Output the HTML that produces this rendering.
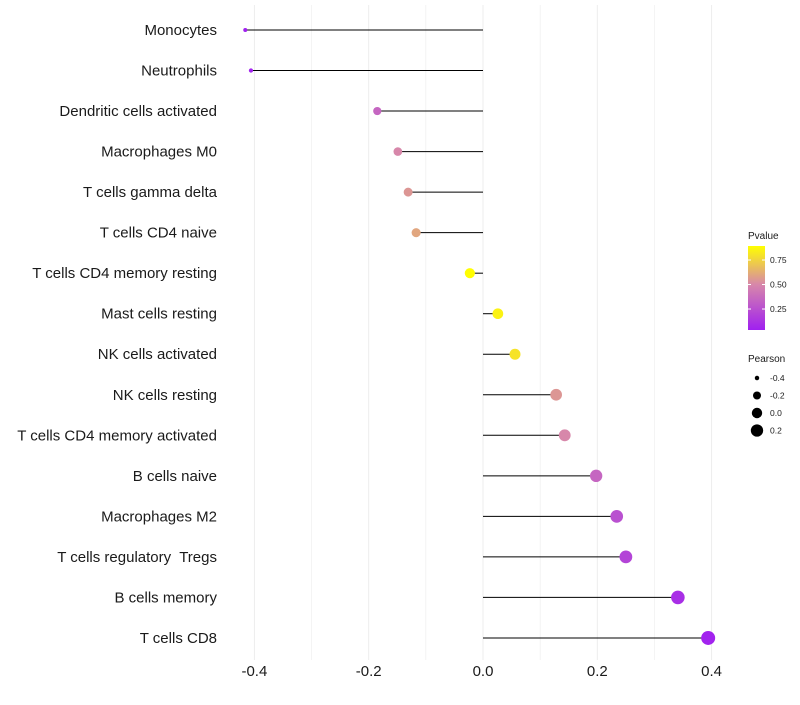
<!DOCTYPE html>
<html><head><meta charset="utf-8"><style>
body{margin:0;background:#fff;font-family:"Liberation Sans",sans-serif}
text{white-space:pre}
</style></head><body>
<svg id="chart" width="800" height="700" xmlns="http://www.w3.org/2000/svg" font-family="Liberation Sans, sans-serif"></svg>
<script>
const categories=["Monocytes","Neutrophils","Dendritic cells activated","Macrophages M0","T cells gamma delta","T cells CD4 naive","T cells CD4 memory resting","Mast cells resting","NK cells activated","NK cells resting","T cells CD4 memory activated","B cells naive","Macrophages M2","T cells regulatory  Tregs","B cells memory","T cells CD8"];
const pearson=[-0.416,-0.406,-0.185,-0.149,-0.131,-0.117,-0.023,0.026,0.056,0.128,0.143,0.198,0.234,0.25,0.341,0.394];
const pvalues=[0.04,0.05,0.35,0.5,0.55,0.6,0.89,0.85,0.8,0.55,0.5,0.35,0.25,0.2,0.1,0.05];
const xTicks=[-0.4,-0.2,0.0,0.2,0.4];
const minorTicks=[-0.3,-0.1,0.1,0.3];
const pTicks=[0.25,0.5,0.75];
const sizeLegend=[-0.4,-0.2,0.0,0.2];

const svg=document.getElementById('chart');
const NS='http://www.w3.org/2000/svg';
function mk(t,a,p){const e=document.createElementNS(NS,t);for(const k in a)e.setAttribute(k,a[k]);(p||svg).appendChild(e);return e;}
const xs=v=>483+v*571.5;
const ys=i=>30+i*40.53;
const rad=v=>Math.sqrt(Math.max(3,4+(v+0.416)*55.5));
function col(p){
  const a=[160,32,240],m=[215,135,170],b=[255,255,0];
  let c;
  if(p<=0.5){const t=Math.max(0,(p-0.036)/0.464);c=a.map((v,i)=>v+(m[i]-v)*t);}
  else{const t=Math.min(1,(p-0.5)/0.393);c=m.map((v,i)=>v+(b[i]-v)*t);}
  return 'rgb('+c.map(Math.round).join(',')+')';
}
xTicks.concat(minorTicks).forEach(v=>{
  const g=mk('line',{x1:xs(v),x2:xs(v),y1:5,y2:660,stroke:'#ededed','stroke-width':xTicks.includes(v)?1:0.6});
  
  
});
xTicks.forEach(v=>{
  const t=mk('text',{x:xs(v),y:676,'text-anchor':'middle','font-size':15,fill:'#1a1a1a'});
  t.textContent=v.toFixed(1);
  
  
});
categories.forEach((c,i)=>{
  const y=ys(i);
  const t=mk('text',{x:217,y:y+5,'text-anchor':'end','font-size':15,fill:'#1a1a1a'});
  t.textContent=c;
  
  
  const l=mk('line',{x1:xs(0),x2:xs(pearson[i]),y1:y,y2:y,stroke:'#000','stroke-width':1});
  
  
  const d=mk('circle',{cx:xs(pearson[i]),cy:y,r:rad(pearson[i]),fill:col(pvalues[i])});
  
  
});
const defs=mk('defs',{});
const gr=mk('linearGradient',{id:'pg',x1:0,y1:1,x2:0,y2:0},defs);
[0.036,0.2,0.35,0.5,0.65,0.8,0.893].forEach(p=>{mk('stop',{offset:(p-0.036)/(0.857),'stop-color':col(p)},gr);});
let t=mk('text',{x:748,y:239,'font-size':10,fill:'#1a1a1a'});t.textContent='Pvalue';


const bar=mk('rect',{x:748,y:246,width:17,height:84,fill:'url(#pg)'});


const pY=p=>330-(p-0.036)/0.857*84;
pTicks.forEach(p=>{
  mk('line',{x1:748,x2:751,y1:pY(p),y2:pY(p),stroke:'#fff'});
  mk('line',{x1:762,x2:765,y1:pY(p),y2:pY(p),stroke:'#fff'});
  const tt=mk('text',{x:770,y:pY(p)+3,'font-size':8.5,fill:'#1a1a1a'});tt.textContent=p.toFixed(2);
  
  
});
t=mk('text',{x:748,y:362,'font-size':10,fill:'#1a1a1a'});t.textContent='Pearson';


sizeLegend.forEach((v,i)=>{
  const y=378+i*17.5;
  const c=mk('circle',{cx:757,cy:y,r:rad(v),fill:'#000'});
  
  
  const tt=mk('text',{x:770,y:y+3,'font-size':8.5,fill:'#1a1a1a'});tt.textContent=v.toFixed(1);
  
  
});
</script>
</body></html>
